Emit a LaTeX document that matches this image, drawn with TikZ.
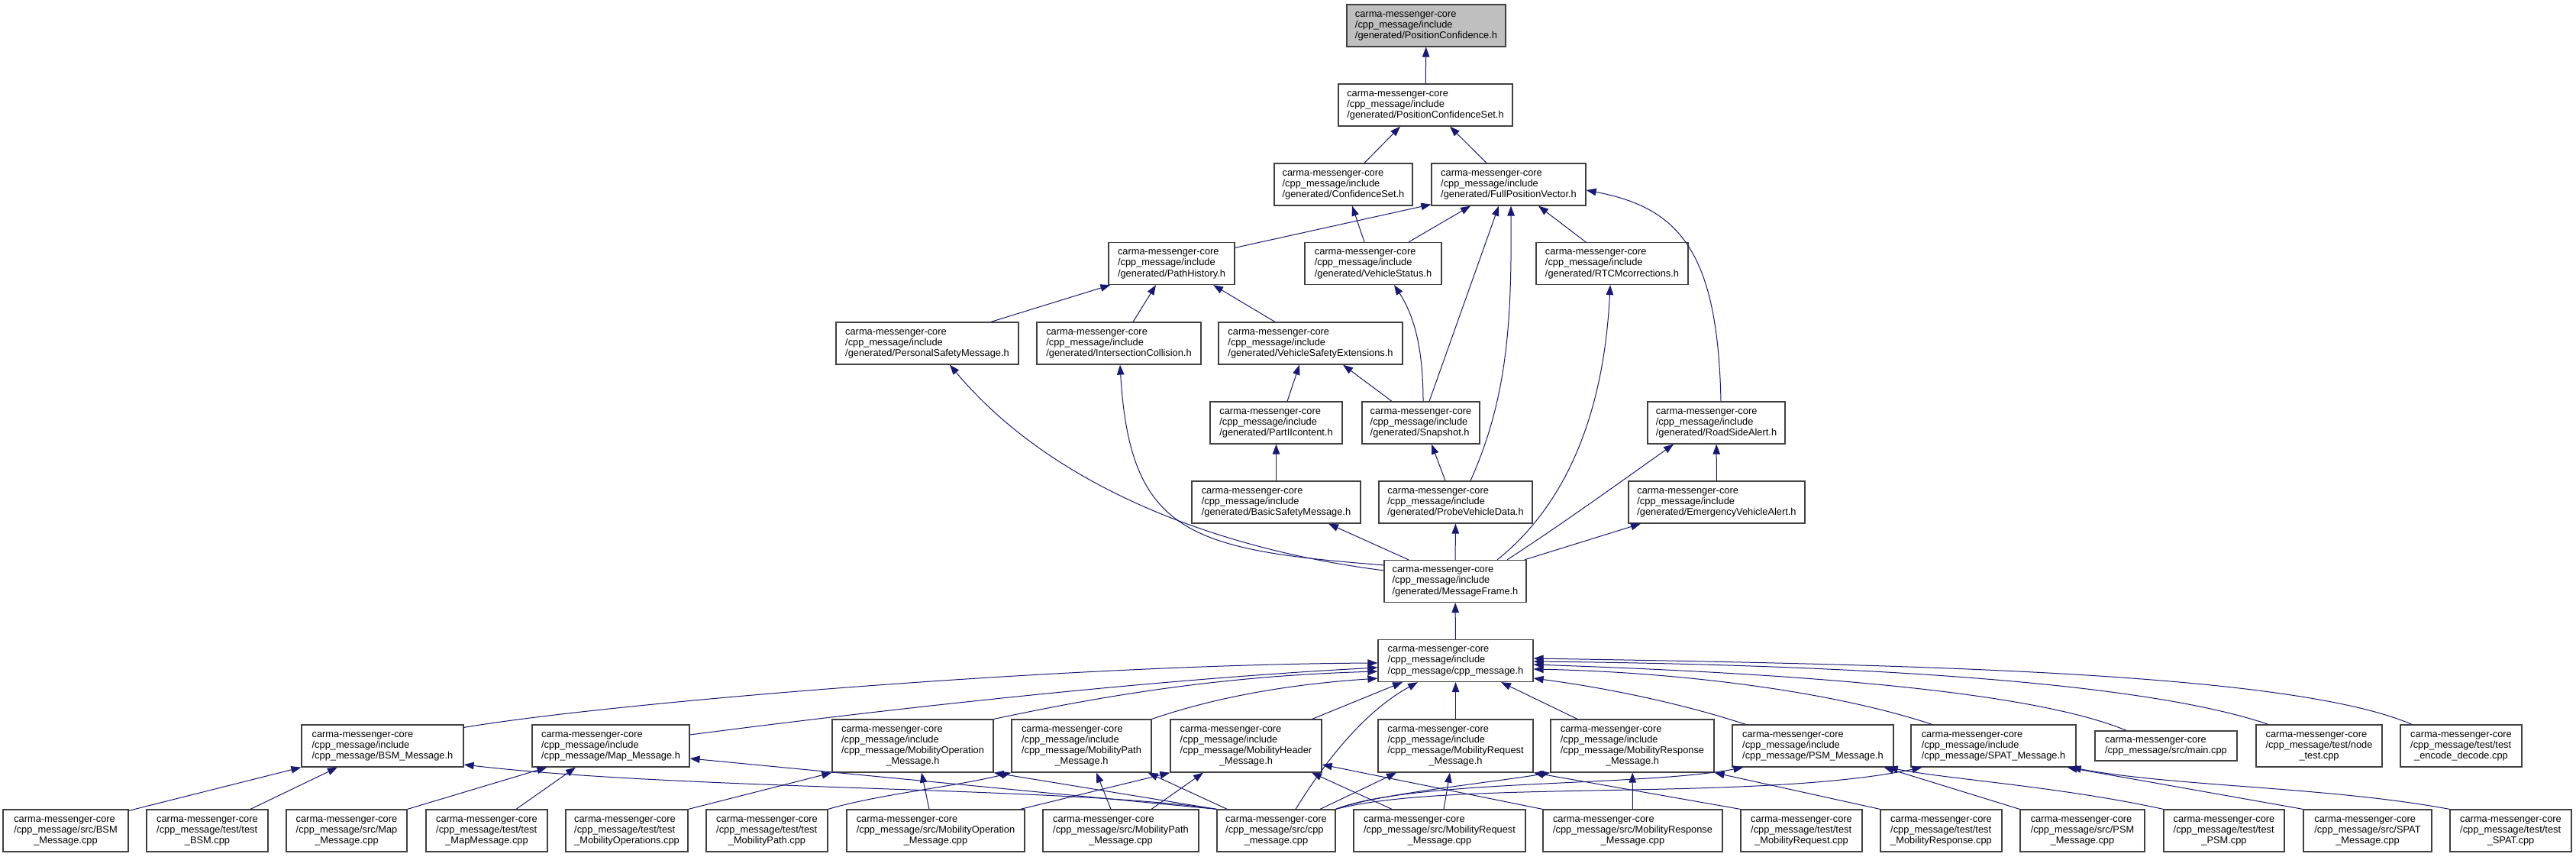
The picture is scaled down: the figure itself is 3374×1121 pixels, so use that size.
\documentclass[tikz,border=0pt]{standalone}
\usepackage{fontspec}
\setmainfont{Liberation Sans}
\usetikzlibrary{arrows.meta, calc}
\definecolor{incBlue}{HTML}{191970}
\definecolor{incRoot}{HTML}{BFBFBF}
\definecolor{incBorder}{HTML}{404040}
\newcommand{\filefont}{\fontsize{7.3}{8.1}\selectfont}
\newcommand{\flines}[1]{\begin{tabular}{@{}l@{}}#1\end{tabular}}
\newcommand{\lastc}[1]{\multicolumn{1}{@{}c@{}}{#1}}
\newcommand{\cmc}{carma-messenger-core}
\newcommand{\cinc}{/cpp\_message/include}

\begin{document}
\begin{tikzpicture}[
    x=0.2mm, y=-0.2mm,
    filebox/.style={
        draw=incBorder, line width=0.25mm, fill=white,
        inner sep=0pt, minimum height=11mm, font=\filefont
    },
    rootbox/.style={filebox, fill=incRoot},
    wd/.style={minimum width=#1*0.2mm},
    fourline/.style={minimum height=13.8mm},
    twoline/.style={minimum height=7.8mm},
    incl/.style={draw=incBlue, line width=0.2mm, -{Triangle[length=2.6mm, width=1.9mm]}}
]
\useasboundingbox (0,0) rectangle (3374,1121);

% Rows 0-8: generated headers down to cpp_message.h
\node[rootbox, wd=208] (pconf) at (1868,33.5) {\flines{\cmc\\\cinc\\/generated/PositionConfidence.h}};
\node[filebox, wd=228] (pcset) at (1867,137.5) {\flines{\cmc\\\cinc\\/generated/PositionConfidenceSet.h}};
\node[filebox, wd=181] (cset) at (1759.5,241.5) {\flines{\cmc\\\cinc\\/generated/ConfidenceSet.h}};
\node[filebox, wd=202] (fpv) at (1976,241.5) {\flines{\cmc\\\cinc\\/generated/FullPositionVector.h}};
\node[filebox, wd=165] (phist) at (1534.5,345) {\flines{\cmc\\\cinc\\/generated/PathHistory.h}};
\node[filebox, wd=179] (vstat) at (1798.5,345) {\flines{\cmc\\\cinc\\/generated/VehicleStatus.h}};
\node[filebox, wd=199] (rtcm) at (2111.5,345) {\flines{\cmc\\\cinc\\/generated/RTCMcorrections.h}};
\node[filebox, wd=239] (psm) at (1214.5,449.5) {\flines{\cmc\\\cinc\\/generated/PersonalSafetyMessage.h}};
\node[filebox, wd=215] (icoll) at (1465.5,449.5) {\flines{\cmc\\\cinc\\/generated/IntersectionCollision.h}};
\node[filebox, wd=241] (vse) at (1716.5,449.5) {\flines{\cmc\\\cinc\\/generated/VehicleSafetyExtensions.h}};
\node[filebox, wd=173] (p2) at (1671.5,553.5) {\flines{\cmc\\\cinc\\/generated/PartIIcontent.h}};
\node[filebox, wd=154] (snap) at (1861,553.5) {\flines{\cmc\\\cinc\\/generated/Snapshot.h}};
\node[filebox, wd=180] (rsa) at (2248,553.5) {\flines{\cmc\\\cinc\\/generated/RoadSideAlert.h}};
\node[filebox, wd=221] (bsm) at (1671.5,657.5) {\flines{\cmc\\\cinc\\/generated/BasicSafetyMessage.h}};
\node[filebox, wd=201] (pvd) at (1906.5,657.5) {\flines{\cmc\\\cinc\\/generated/ProbeVehicleData.h}};
\node[filebox, wd=231] (eva) at (2248.5,657.5) {\flines{\cmc\\\cinc\\/generated/EmergencyVehicleAlert.h}};
\node[filebox, wd=186] (mframe) at (1906,761) {\flines{\cmc\\\cinc\\/generated/MessageFrame.h}};
\node[filebox, wd=203] (cpph) at (1906.5,865) {\flines{\cmc\\\cinc\\/cpp\_message/cpp\_message.h}};

% Row 9: message headers and tools
\node[filebox, wd=212] (bsmh) at (501,976.5) {\flines{\cmc\\\cinc\\/cpp\_message/BSM\_Message.h}};
\node[filebox, wd=206] (maph) at (800,976.5) {\flines{\cmc\\\cinc\\/cpp\_message/Map\_Message.h}};
\node[filebox, fourline, wd=211] (mobop) at (1195.5,976.5) {\flines{\cmc\\\cinc\\/cpp\_message/MobilityOperation\\\lastc{\_Message.h}}};
\node[filebox, fourline, wd=183] (mobpath) at (1416.5,976.5) {\flines{\cmc\\\cinc\\/cpp\_message/MobilityPath\\\lastc{\_Message.h}}};
\node[filebox, fourline, wd=198] (mobhdr) at (1632,976.5) {\flines{\cmc\\\cinc\\/cpp\_message/MobilityHeader\\\lastc{\_Message.h}}};
\node[filebox, fourline, wd=203] (mobreq) at (1906.5,976.5) {\flines{\cmc\\\cinc\\/cpp\_message/MobilityRequest\\\lastc{\_Message.h}}};
\node[filebox, fourline, wd=214] (mobresp) at (2138,976.5) {\flines{\cmc\\\cinc\\/cpp\_message/MobilityResponse\\\lastc{\_Message.h}}};
\node[filebox, wd=211] (psmh) at (2374.5,976.5) {\flines{\cmc\\\cinc\\/cpp\_message/PSM\_Message.h}};
\node[filebox, wd=216] (spath) at (2611,976.5) {\flines{\cmc\\\cinc\\/cpp\_message/SPAT\_Message.h}};
\node[filebox, twoline, wd=186] (maincpp) at (2837,976.5) {\flines{\cmc\\/cpp\_message/src/main.cpp}};
\node[filebox, wd=165] (nodetest) at (3037.5,976.5) {\flines{\cmc\\/cpp\_message/test/node\\\lastc{\_test.cpp}}};
\node[filebox, wd=159] (encdec) at (3223.5,976.5) {\flines{\cmc\\/cpp\_message/test/test\\\lastc{\_encode\_decode.cpp}}};

% Row 10: sources and tests
\node[filebox, wd=164] (bsmcpp) at (86,1087.5) {\flines{\cmc\\/cpp\_message/src/BSM\\\lastc{\_Message.cpp}}};
\node[filebox, wd=159] (tbsm) at (271.5,1087.5) {\flines{\cmc\\/cpp\_message/test/test\\\lastc{\_BSM.cpp}}};
\node[filebox, wd=158] (mapcpp) at (454,1087.5) {\flines{\cmc\\/cpp\_message/src/Map\\\lastc{\_Message.cpp}}};
\node[filebox, wd=159] (tmap) at (637.5,1087.5) {\flines{\cmc\\/cpp\_message/test/test\\\lastc{\_MapMessage.cpp}}};
\node[filebox, wd=160] (tmobops) at (821,1087.5) {\flines{\cmc\\/cpp\_message/test/test\\\lastc{\_MobilityOperations.cpp}}};
\node[filebox, wd=159] (tmobpath) at (1004.5,1087.5) {\flines{\cmc\\/cpp\_message/test/test\\\lastc{\_MobilityPath.cpp}}};
\node[filebox, wd=233] (mobopcpp) at (1225.5,1087.5) {\flines{\cmc\\/cpp\_message/src/MobilityOperation\\\lastc{\_Message.cpp}}};
\node[filebox, wd=204] (mobpathcpp) at (1468,1087.5) {\flines{\cmc\\/cpp\_message/src/MobilityPath\\\lastc{\_Message.cpp}}};
\node[filebox, wd=155] (cppcpp) at (1671.5,1087.5) {\flines{\cmc\\/cpp\_message/src/cpp\\\lastc{\_message.cpp}}};
\node[filebox, wd=225] (mobreqcpp) at (1885.5,1087.5) {\flines{\cmc\\/cpp\_message/src/MobilityRequest\\\lastc{\_Message.cpp}}};
\node[filebox, wd=235] (mobrespcpp) at (2138.5,1087.5) {\flines{\cmc\\/cpp\_message/src/MobilityResponse\\\lastc{\_Message.cpp}}};
\node[filebox, wd=159] (tmobreq) at (2359.5,1087.5) {\flines{\cmc\\/cpp\_message/test/test\\\lastc{\_MobilityRequest.cpp}}};
\node[filebox, wd=159] (tmobresp) at (2542.5,1087.5) {\flines{\cmc\\/cpp\_message/test/test\\\lastc{\_MobilityResponse.cpp}}};
\node[filebox, wd=163] (psmcpp) at (2727.5,1087.5) {\flines{\cmc\\/cpp\_message/src/PSM\\\lastc{\_Message.cpp}}};
\node[filebox, wd=158] (tpsm) at (2913,1087.5) {\flines{\cmc\\/cpp\_message/test/test\\\lastc{\_PSM.cpp}}};
\node[filebox, wd=168] (spatcpp) at (3101,1087.5) {\flines{\cmc\\/cpp\_message/src/SPAT\\\lastc{\_Message.cpp}}};
\node[filebox, wd=159] (tspat) at (3288.5,1087.5) {\flines{\cmc\\/cpp\_message/test/test\\\lastc{\_SPAT.cpp}}};

% Upper part
\draw[incl] (pcset) -- (pconf);
\draw[incl] ($(cset.north)+(27.5,0)$) -- ($(pcset.south)+(-33,0)$);
\draw[incl] ($(fpv.north)+(-29,0)$) -- ($(pcset.south)+(32,0)$);
\draw[incl] ($(phist.north east)+(0,7.5)$) -- ($(fpv.south west)+(0,-2)$);
\draw[incl] ($(vstat.north)+(46.5,0)$) -- ($(fpv.south)+(-50,0)$);
\draw[incl] ($(vstat.north)+(-11.5,0)$) -- ($(cset.south)+(11.5,0)$);
\draw[incl] ($(snap.north)+(11,0)$) -- ($(fpv.south)+(-13,0)$);
\draw[incl] ($(pvd.north)+(19.5,0)$) .. controls (1975,520) and (1980,420) .. ($(fpv.south)+(3,0)$);
\draw[incl] ($(rtcm.north)+(-34.5,0)$) -- ($(fpv.south)+(39,0)$);
\draw[incl] ($(rsa.north)+(6,0)$) .. controls (2250,330) and (2200,272) .. ($(fpv.east)+(0,7.5)$);
\draw[incl] ($(psm.north)+(83.5,0)$) -- ($(phist.south west)+(3,0)$);
\draw[incl] ($(icoll.north)+(18.5,0)$) -- ($(phist.south)+(-20.5,0)$);
\draw[incl] ($(vse.north)+(-46.5,0)$) -- ($(phist.south)+(54.5,0)$);
\draw[incl] ($(p2.north)+(14.5,0)$) -- ($(vse.south)+(-14.5,0)$);
\draw[incl] ($(snap.north)+(-38,0)$) -- ($(vse.south)+(42.5,0)$);
\draw[incl] ($(snap.north)+(3,0)$) .. controls (1864,450) and (1850,410) .. ($(vstat.south)+(27.5,0)$);
\draw[incl] (bsm) -- (p2);
\draw[incl] ($(pvd.north)+(-13.5,0)$) -- ($(snap.south)+(14,0)$);
\draw[incl] (eva) -- (rsa);

% MessageFrame
\draw[incl] ($(mframe.north west)+(0,14)$) .. controls (1600,720) and (1380,640) .. ($(psm.south)+(29.5,0)$);
\draw[incl] ($(mframe.north west)+(0,7)$) .. controls (1560,720) and (1480,700) .. ($(icoll.south)+(1.5,0)$);
\draw[incl] ($(mframe.north)+(-61,0)$) -- ($(bsm.south)+(68.5,0)$);
\draw[incl] (mframe) -- (pvd);
\draw[incl] ($(mframe.north)+(55,0)$) .. controls (2040,670) and (2100,560) .. ($(rtcm.south)+(-2.5,0)$);
\draw[incl] ($(mframe.north)+(68,0)$) .. controls (2040,690) and (2110,640) .. ($(rsa.south)+(-56,0)$);
\draw[incl] ($(mframe.north east)+(-3,0)$) -- ($(eva.south)+(-99.5,0)$);
\draw[incl] (cpph) -- (mframe);

% Into cpp_message.h
\draw[incl] ($(bsmh.north east)+(0,4)$) .. controls (800,920) and (1400,870) .. ($(cpph.west)+(0,3)$);
\draw[incl] ($(maph.east)+(0,-14.5)$) .. controls (1150,930) and (1500,890) .. ($(cpph.west)+(0,9)$);
\draw[incl] (mobop.north east) .. controls (1450,910) and (1600,885) .. ($(cpph.west)+(0,14)$);
\draw[incl] (mobpath.north east) .. controls (1600,910) and (1700,895) .. ($(cpph.south west)+(0,-5)$);
\draw[incl] ($(mobhdr.north east)+(-13,0)$) -- ($(cpph.south)+(-69.5,0)$);
\draw[incl] ($(cppcpp.north)+(25.5,0)$) .. controls (1740,990) and (1790,930) .. ($(cpph.south)+(-49.5,0)$);
\draw[incl] (mobreq) -- (cpph);
\draw[incl] ($(mobresp.north)+(-72,0)$) -- ($(cpph.south)+(59.5,0)$);
\draw[incl] ($(psmh.north west)+(18,0)$) .. controls (2200,920) and (2100,900) .. ($(cpph.east)+(0,23)$);
\draw[incl] ($(spath.north west)+(28,0)$) .. controls (2400,905) and (2200,880) .. ($(cpph.east)+(0,11)$);
\draw[incl] ($(maincpp.north)+(-52,0)$) .. controls (2650,900) and (2300,880) .. ($(cpph.east)+(0,5)$);
\draw[incl] ($(nodetest.north)+(-66.5,0)$) .. controls (2800,890) and (2400,870) .. ($(cpph.east)+(0,1)$);
\draw[incl] ($(encdec.north)+(-64.5,0)$) .. controls (3000,880) and (2500,870) .. ($(cpph.east)+(0,-3)$);

% Lower part
\draw[incl] ($(bsmcpp.north east)+(0,2)$) -- (bsmh.south west);
\draw[incl] ($(tbsm.north)+(56.5,0)$) -- ($(bsmh.south)+(-59,0)$);
\draw[incl] (cppcpp.north west) .. controls (1400,1030) and (900,1035) .. ($(bsmh.east)+(0,24.5)$);
\draw[incl] (mapcpp.north east) -- ($(maph.south west)+(20,0)$);
\draw[incl] ($(tmap.north)+(38.5,0)$) -- ($(maph.south)+(-46,0)$);
\draw[incl] (cppcpp.north west) -- ($(maph.east)+(0,16.5)$);
\draw[incl] (tmobops.north east) -- (mobop.south west);
\draw[incl] ($(mobopcpp.north)+(-8.5,0)$) -- ($(mobop.south)+(11.5,0)$);
\draw[incl] (cppcpp.north west) -- (mobop.south east);
\draw[incl] (tmobpath.north east) .. controls (1150,1040) and (1250,1030) .. (mobpath.south west);
\draw[incl] ($(mobpathcpp.north)+(-13,0)$) -- ($(mobpath.south)+(19.5,0)$);
\draw[incl] ($(cppcpp.north west)+(14,0)$) -- ($(mobpath.south east)+(-5,0)$);
\draw[incl] ($(mobopcpp.north east)+(-6,0)$) -- (mobhdr.south west);
\draw[incl] ($(mobpathcpp.north)+(40,0)$) -- ($(mobhdr.south)+(-56,0)$);
\draw[incl] ($(mobreqcpp.north)+(-62.5,0)$) -- ($(mobhdr.south)+(86,0)$);
\draw[incl] (mobrespcpp.north west) -- ($(mobhdr.east)+(0,24.5)$);
\draw[incl] ($(cppcpp.north)+(57.5,0)$) -- ($(mobreq.south)+(-77.5,0)$);
\draw[incl] ($(mobreqcpp.north)+(5.5,0)$) -- ($(mobreq.south)+(-7.5,0)$);
\draw[incl] (tmobreq.north west) -- (mobreq.south east);
\draw[incl] (cppcpp.north east) .. controls (1800,1040) and (1950,1025) .. (mobresp.south west);
\draw[incl] (mobrespcpp) -- (mobresp);
\draw[incl] (tmobresp.north west) -- (mobresp.south east);
\draw[incl] (cppcpp.north east) .. controls (1850,1020) and (2150,1030) .. ($(psmh.south west)+(15,0)$);
\draw[incl] (cppcpp.north east) .. controls (1900,1020) and (2300,1050) .. ($(spath.south west)+(15,0)$);
\draw[incl] (psmcpp.north west) -- ($(psmh.south east)+(-13,0)$);
\draw[incl] (tpsm.north west) .. controls (2700,1030) and (2550,1020) .. ($(psmh.south east)+(-8,0)$);
\draw[incl] (spatcpp.north west) -- ($(spath.south east)+(-12,0)$);
\draw[incl] (tspat.north west) .. controls (3050,1030) and (2850,1030) .. ($(spath.south east)+(-7,0)$);

\end{tikzpicture}
\end{document}
